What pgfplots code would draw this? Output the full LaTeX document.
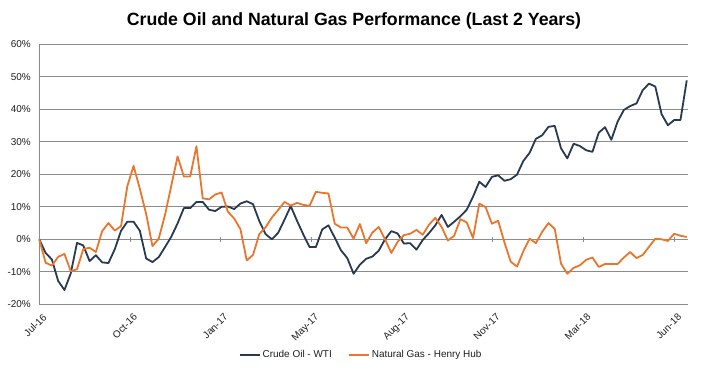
\documentclass[border=0pt]{standalone}
\usepackage{pgfplots}
\pgfplotsset{compat=1.18}
\usepackage{pgfplotstable}
\usepackage{fontspec}
\setmainfont{Liberation Sans}
\definecolor{oil}{RGB}{40,58,79}
\definecolor{gas}{RGB}{232,118,45}
\definecolor{gridc}{RGB}{140,140,140}
\definecolor{txt}{RGB}{30,30,30}

\pgfplotstableread{
w oil gas
0 0 0
1 -4.2 -7.2
2 -6.2 -8.1
3 -12.8 -5.4
4 -15.6 -4.5
5 -10.5 -9.8
6 -1.1 -9.2
7 -1.9 -3.0
8 -6.7 -2.6
9 -4.9 -3.9
10 -7.1 2.5
11 -7.3 5.0
12 -3.1 2.7
13 2.6 4.0
14 5.4 16.3
15 5.4 22.6
16 2.6 15.5
17 -5.9 7.8
18 -7.0 -2.1
19 -5.5 0.2
20 -2.4 7.5
21 0.8 16.5
22 4.9 25.5
23 9.6 19.3
24 9.6 19.3
25 11.5 28.6
26 11.5 12.6
27 9.1 12.3
28 8.7 13.8
29 10.0 14.4
30 10.1 8.5
31 9.3 6.4
32 11.0 3.1
33 11.7 -6.5
34 10.8 -4.8
35 5.6 1.6
36 1.6 3.7
37 0.0 6.7
38 2.0 9.0
39 6.0 11.5
40 10.2 10.4
41 5.7 11.2
42 1.5 10.6
43 -2.4 10.3
44 -2.4 14.6
45 3.0 14.3
46 4.3 14.1
47 0.5 4.8
48 -3.4 3.6
49 -5.8 3.6
50 -10.6 0.2
51 -7.8 4.7
52 -6.0 -1.2
53 -5.3 2.1
54 -3.5 3.8
55 0.0 0.0
56 2.5 -4.2
57 1.8 -0.8
58 -1.3 1.3
59 -1.2 1.7
60 -3.2 2.9
61 -0.2 1.4
62 1.9 4.5
63 4.3 6.6
64 7.5 3.8
65 3.8 -0.4
66 5.4 1.1
67 7.1 6.2
68 9.1 5.2
69 13.1 0.4
70 17.7 11.0
71 16.1 9.9
72 19.2 4.8
73 19.7 5.7
74 18.0 -1.0
75 18.5 -6.9
76 19.9 -8.4
77 24.1 -3.7
78 26.6 0.2
79 30.9 -1.2
80 32.0 2.3
81 34.6 5.0
82 34.9 3.2
83 28.0 -7.5
84 24.9 -10.6
85 29.4 -8.8
86 28.7 -8.0
87 27.4 -6.3
88 26.9 -5.6
89 32.8 -8.5
90 34.5 -7.6
91 30.6 -7.6
92 36.2 -7.6
93 39.8 -5.6
94 41.0 -3.9
95 41.8 -5.8
96 45.9 -4.8
97 47.9 -2.3
98 47.0 0.2
99 38.5 0.0
100 35.1 -0.5
101 36.7 1.7
102 36.7 1.1
103 48.9 0.7
}\data

\begin{document}
\begin{tikzpicture}
\useasboundingbox (0,0) rectangle (710bp,375bp);
\node[font=\fontsize{17.8}{20}\selectfont\bfseries, text=black] at (354bp,354bp) {Crude Oil and Natural Gas Performance (Last 2 Years)};
\begin{axis}[
  at={(39.3bp,70.7bp)}, anchor=south west,
  scale only axis, width=648.7bp, height=260bp,
  xmin=0, xmax=103.2, ymin=-20, ymax=60,
  axis x line*=bottom, axis y line*=left,
  x axis line style={draw=none},
  y axis line style={draw=gridc, line width=0.8bp},
  ymajorgrids, grid style={gridc, line width=0.8bp},
  major tick length=0,
  ytick={-20,-10,...,60},
  yticklabels={-20\%,-10\%,0\%,10\%,20\%,30\%,40\%,50\%,60\%},
  xtick={0,14.43,28.86,43.29,57.71,72.14,86.57,101},
  xticklabels={Jul-16,Oct-16,Jan-17,May-17,Aug-17,Nov-17,Mar-18,Jun-18},
  tick label style={font=\fontsize{10}{11}\selectfont, text=txt},
  yticklabel style={xshift=-5bp},
  xticklabel style={rotate=45, anchor=north east, inner sep=0bp, xshift=-4bp, yshift=-8bp},
  clip=false,
  legend columns=2,
  legend style={at={(0.496,-0.195)}, anchor=center, draw=none, fill=none,
    font=\fontsize{10}{12}\selectfont, text=txt,
    /tikz/every even column/.append style={column sep=14bp}},
  legend image code/.code={\draw[#1, line width=2bp] (0bp,0bp) -- (20bp,0bp);},
]
\pgfplotsinvokeforeach{14.43,28.86,43.29,57.71,72.14,86.57,101}{
  \draw[gridc, line width=0.8bp] (axis cs:#1,-0.8) -- (axis cs:#1,0.8);
}
\addplot[oil, line width=1.8bp, line join=round] table[x=w, y=oil] {\data};
\addlegendentry{Crude Oil - WTI}
\addplot[gas, line width=1.8bp, line join=round] table[x=w, y=gas] {\data};
\addlegendentry{Natural Gas - Henry Hub}
\end{axis}
\end{tikzpicture}
\end{document}
